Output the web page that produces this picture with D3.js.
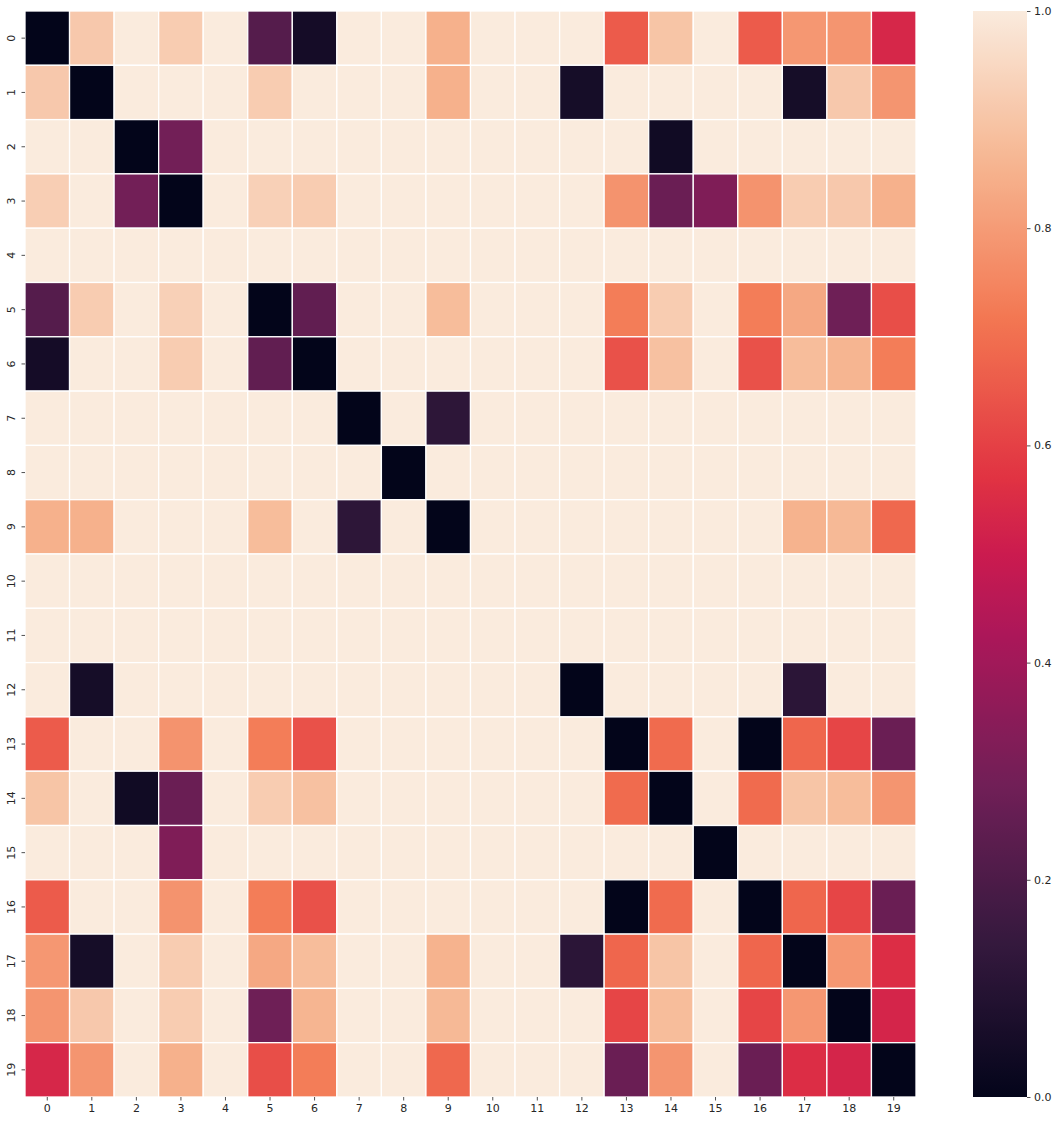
<!DOCTYPE html>
<html>
<head>
<meta charset="utf-8">
<script src="https://cdn.jsdelivr.net/npm/d3@7"></script>
<style>
html,body{margin:0;padding:0;background:#fff;}
svg text{font-family:"DejaVu Sans",sans-serif;fill:#262626;}
</style>
</head>
<body>
<svg id="chart" width="1057" height="1122"></svg>
<script>
const rowLabels = d3.range(20).map(String);
const colLabels = d3.range(20).map(String);
const colorbarTicks = [0.0, 0.2, 0.4, 0.6, 0.8, 1.0];

const row0  = [0, 0.91, 1, 0.92, 1, 0.22, 0.05, 1, 1, 0.85, 1, 1, 1, 0.657, 0.9, 1, 0.657, 0.79, 0.785, 0.535];
const row1  = [0.91, 0, 1, 1, 1, 0.92, 1, 1, 1, 0.85, 1, 1, 0.055, 1, 1, 1, 1, 0.055, 0.91, 0.785];
const row2  = [1, 1, 0, 0.29, 1, 1, 1, 1, 1, 1, 1, 1, 1, 1, 0.04, 1, 1, 1, 1, 1];
const row3  = [0.925, 1, 0.29, 0, 1, 0.93, 0.92, 1, 1, 1, 1, 1, 1, 0.78, 0.27, 0.32, 0.78, 0.92, 0.91, 0.85];
const row4  = [1, 1, 1, 1, 1, 1, 1, 1, 1, 1, 1, 1, 1, 1, 1, 1, 1, 1, 1, 1];
const row5  = [0.22, 0.92, 1, 0.93, 1, 0, 0.25, 1, 1, 0.88, 1, 1, 1, 0.73, 0.92, 1, 0.73, 0.83, 0.28, 0.63];
const row6  = [0.05, 1, 1, 0.92, 1, 0.25, 0, 1, 1, 1, 1, 1, 1, 0.635, 0.89, 1, 0.635, 0.88, 0.86, 0.73];
const row7  = [1, 1, 1, 1, 1, 1, 1, 0, 1, 0.12, 1, 1, 1, 1, 1, 1, 1, 1, 1, 1];
const row8  = [1, 1, 1, 1, 1, 1, 1, 1, 0, 1, 1, 1, 1, 1, 1, 1, 1, 1, 1, 1];
const row9  = [0.85, 0.85, 1, 1, 1, 0.88, 1, 0.12, 1, 0, 1, 1, 1, 1, 1, 1, 1, 0.855, 0.87, 0.684];
const row10 = [1, 1, 1, 1, 1, 1, 1, 1, 1, 1, 1, 1, 1, 1, 1, 1, 1, 1, 1, 1];
const row11 = [1, 1, 1, 1, 1, 1, 1, 1, 1, 1, 1, 1, 1, 1, 1, 1, 1, 1, 1, 1];
const row12 = [1, 0.055, 1, 1, 1, 1, 1, 1, 1, 1, 1, 1, 0, 1, 1, 1, 1, 0.115, 1, 1];
const row13 = [0.657, 1, 1, 0.78, 1, 0.73, 0.635, 1, 1, 1, 1, 1, 1, 0, 0.69, 1, 0, 0.68, 0.61, 0.27];
const row14 = [0.9, 1, 0.04, 0.27, 1, 0.92, 0.89, 1, 1, 1, 1, 1, 1, 0.69, 0, 1, 0.69, 0.9, 0.88, 0.785];
const row15 = [1, 1, 1, 0.32, 1, 1, 1, 1, 1, 1, 1, 1, 1, 1, 1, 0, 1, 1, 1, 1];
const row16 = [0.657, 1, 1, 0.78, 1, 0.73, 0.635, 1, 1, 1, 1, 1, 1, 0, 0.69, 1, 0, 0.68, 0.61, 0.27];
const row17 = [0.79, 0.055, 1, 0.92, 1, 0.83, 0.88, 1, 1, 0.855, 1, 1, 0.115, 0.68, 0.9, 1, 0.68, 0, 0.79, 0.555];
const row18 = [0.785, 0.91, 1, 0.92, 1, 0.28, 0.86, 1, 1, 0.87, 1, 1, 1, 0.61, 0.88, 1, 0.61, 0.79, 0, 0.53];
const row19 = [0.535, 0.785, 1, 0.85, 1, 0.63, 0.73, 1, 1, 0.684, 1, 1, 1, 0.27, 0.785, 1, 0.27, 0.555, 0.53, 0];

const matrix = [row0,row1,row2,row3,row4,row5,row6,row7,row8,row9,row10,row11,row12,row13,row14,row15,row16,row17,row18,row19];

// seaborn "rocket" colormap control colors
const rocketPos   = [0, 1/7, 2/7, 3/7, 0.5, 4/7, 5/7, 6/7, 1];
const rocketStops = ["#03051a","#35193e","#701f57","#ad1759","#cb1b4f","#e13342","#f37651","#f6b48f","#faebdd"];
const rocket = d3.scaleLinear()
  .domain(rocketPos)
  .range(rocketStops)
  .interpolate(d3.interpolateRgb)
  .clamp(true);

const svg = d3.select("#chart");
const plot = {left:25, top:11, right:916, bottom:1097};

const x = d3.scaleBand().domain(colLabels).range([plot.left, plot.right]).padding(0);
const y = d3.scaleBand().domain(rowLabels).range([plot.top, plot.bottom]).padding(0);
const color = d3.scaleSequential(rocket).domain([0,1]);

const cells = [];
matrix.forEach((row, i) => row.forEach((v, j) => cells.push({r: rowLabels[i], c: colLabels[j], v})));

svg.append("g").selectAll("rect").data(cells).join("rect")
  .attr("x", d => x(d.c))
  .attr("y", d => y(d.r))
  .attr("width", x.bandwidth())
  .attr("height", y.bandwidth())
  .attr("fill", d => color(d.v))
  .attr("stroke", "#fff")
  .attr("stroke-width", 1.3);

// axes
const xAxis = svg.append("g")
  .attr("transform", `translate(0,${plot.bottom})`)
  .call(d3.axisBottom(x).tickSize(3.5).tickPadding(3.5));
xAxis.select(".domain").remove();
xAxis.selectAll(".tick line").attr("stroke", "#262626").attr("stroke-width", 0.8);
xAxis.selectAll(".tick text").attr("font-size", 11).attr("fill", "#262626").style("font-family", "DejaVu Sans");

const yAxis = svg.append("g")
  .attr("transform", `translate(${plot.left},0)`)
  .call(d3.axisLeft(y).tickSize(3.5).tickPadding(0));
yAxis.select(".domain").remove();
yAxis.selectAll(".tick line").attr("stroke", "#262626").attr("stroke-width", 0.8);
yAxis.selectAll(".tick text")
  .attr("font-size", 11).attr("fill", "#262626").style("font-family", "DejaVu Sans")
  .attr("x", null).attr("dy", null)
  .attr("text-anchor", "middle")
  .attr("dominant-baseline", "central")
  .attr("transform", "translate(-14,0) rotate(-90)");

// colorbar
const cb = {left:973, right:1027, top:11, bottom:1097};
const defs = svg.append("defs");
const grad = defs.append("linearGradient").attr("id", "cbgrad")
  .attr("x1", "0").attr("y1", "1").attr("x2", "0").attr("y2", "0");
d3.range(0, 1.0001, 0.01).forEach(t => {
  grad.append("stop").attr("offset", t).attr("stop-color", rocket(t));
});
svg.append("rect")
  .attr("x", cb.left).attr("y", cb.top)
  .attr("width", cb.right - cb.left).attr("height", cb.bottom - cb.top)
  .attr("fill", "url(#cbgrad)");

const cbScale = d3.scaleLinear().domain([0,1]).range([cb.bottom, cb.top]);
const cbAxis = svg.append("g")
  .attr("transform", `translate(${cb.right},0)`)
  .call(d3.axisRight(cbScale).tickValues(colorbarTicks).tickFormat(d3.format(".1f")).tickSize(3.5).tickPadding(3.5));
cbAxis.select(".domain").remove();
cbAxis.selectAll(".tick line").attr("stroke", "#262626").attr("stroke-width", 0.8);
cbAxis.selectAll(".tick text").attr("font-size", 11).attr("fill", "#262626").style("font-family", "DejaVu Sans");
</script>
</body>
</html>
